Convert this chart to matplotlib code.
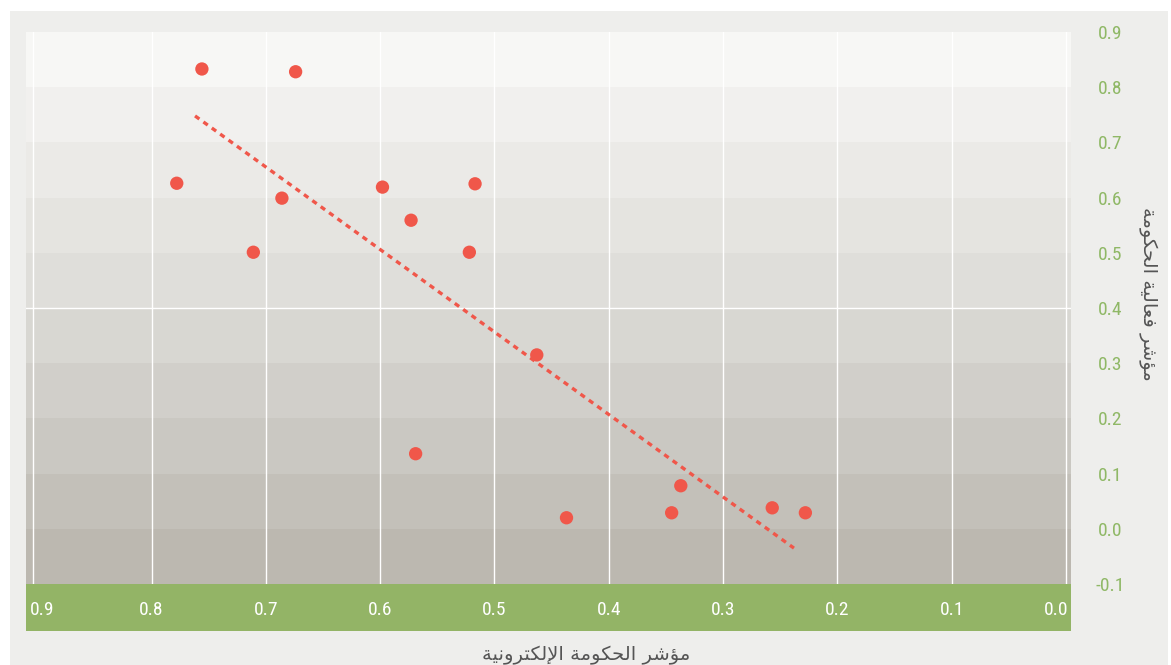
import matplotlib
matplotlib.use("Agg")
import matplotlib.pyplot as plt
from matplotlib import font_manager
from matplotlib.patches import Rectangle
import matplotlib.transforms as mtransforms

# ---------------- data ----------------
egov_index = [0.756, 0.674, 0.778, 0.686, 0.711, 0.598, 0.517, 0.573,
              0.522, 0.463, 0.569, 0.437, 0.337, 0.345, 0.257, 0.228]
gov_effect = [0.833, 0.828, 0.626, 0.599, 0.501, 0.619, 0.625, 0.559,
              0.501, 0.315, 0.136, 0.020, 0.078, 0.029, 0.038, 0.029]
trend_x = [0.762, 0.238]
trend_y = [0.748, -0.035]
x_ticks = [0.9, 0.8, 0.7, 0.6, 0.5, 0.4, 0.3, 0.2, 0.1, 0.0]
x_tick_labels = ["0.9", "0.8", "0.7", "0.6", "0.5", "0.4", "0.3", "0.2", "0.1", "0.0"]
y_ticks = [0.9, 0.8, 0.7, 0.6, 0.5, 0.4, 0.3, 0.2, 0.1, 0.0, -0.1]
y_tick_labels = ["0.9", "0.8", "0.7", "0.6", "0.5", "0.4", "0.3", "0.2", "0.1", "0.0", "-0.1"]
x_title = "مؤشر الحكومة الإلكترونية"
y_title = "مؤشر فعالية الحكومة"

# ------------- arabic shaping (presentation forms) -------------
FORMS = {
    'ا': (0xFE8D, 0xFE8E, None, None), 'إ': (0xFE87, 0xFE88, None, None),
    'ؤ': (0xFE85, 0xFE86, None, None), 'ر': (0xFEAD, 0xFEAE, None, None),
    'و': (0xFEED, 0xFEEE, None, None), 'ة': (0xFE93, 0xFE94, None, None),
    'ش': (0xFEB5, 0xFEB6, 0xFEB7, 0xFEB8), 'م': (0xFEE1, 0xFEE2, 0xFEE3, 0xFEE4),
    'ل': (0xFEDD, 0xFEDE, 0xFEDF, 0xFEE0), 'ح': (0xFEA1, 0xFEA2, 0xFEA3, 0xFEA4),
    'ك': (0xFED9, 0xFEDA, 0xFEDB, 0xFEDC), 'ت': (0xFE95, 0xFE96, 0xFE97, 0xFE98),
    'ن': (0xFEE5, 0xFEE6, 0xFEE7, 0xFEE8), 'ي': (0xFEF1, 0xFEF2, 0xFEF3, 0xFEF4),
    'ف': (0xFED1, 0xFED2, 0xFED3, 0xFED4), 'ع': (0xFEC9, 0xFECA, 0xFECB, 0xFECC),
}
LAMALEF = {'ا': (0xFEFB, 0xFEFC), 'إ': (0xFEF9, 0xFEFA)}


def shape_ar(text):
    def joins_left(c):
        return c in FORMS and FORMS[c][2] is not None
    chars = list(text)
    n = len(chars)
    out = []
    i = 0
    while i < n:
        c = chars[i]
        if c not in FORMS:
            out.append(c)
            i += 1
            continue
        prev = chars[i - 1] if i > 0 else None
        cprev = prev is not None and joins_left(prev)
        if c == 'ل' and i + 1 < n and chars[i + 1] in LAMALEF:
            iso, fin = LAMALEF[chars[i + 1]]
            out.append(chr(fin if cprev else iso))
            i += 2
            continue
        nxt = chars[i + 1] if i + 1 < n else None
        cnext = joins_left(c) and nxt is not None and nxt in FORMS
        iso, fin, ini, med = FORMS[c]
        if cprev and cnext:
            g = med
        elif cprev:
            g = fin
        elif cnext:
            g = ini
        else:
            g = iso
        out.append(chr(g))
        i += 1
    return ''.join(reversed(out))


# ------------- fonts -------------
available = {f.name for f in font_manager.fontManager.ttflist}
num_font = "Roboto Condensed" if "Roboto Condensed" in available else (
    "Liberation Sans Narrow" if "Liberation Sans Narrow" in available else "Roboto")

# ------------- figure -------------
W, H = 1171, 665
fig = plt.figure(figsize=(W / 100, H / 100), dpi=100)
fig.patch.set_facecolor("white")

# outer panel
fig.add_artist(Rectangle((10 / W, 0), 1158 / W, (H - 11) / H, transform=fig.transFigure,
                         facecolor="#eeeeec", edgecolor="none", zorder=-10))

ax_l, ax_r, ax_t, ax_b = 26, 1071, 32, 584
ax = fig.add_axes([ax_l / W, (H - ax_b) / H, (ax_r - ax_l) / W, (ax_b - ax_t) / H])
ax.set_facecolor("none")

# green band under the plot
fig.add_artist(Rectangle((ax_l / W, (H - 631) / H), (ax_r - ax_l) / W, 47 / H,
                         transform=fig.transFigure, facecolor="#93b466",
                         edgecolor="none", zorder=-5))

band_colors = ["#bcb8b0", "#c3c0b9", "#cac8c2", "#d1cfca", "#d8d7d2",
               "#dfdeda", "#e5e4e0", "#ebeae7", "#f1f0ee", "#f7f7f5"]
levels = sorted(y_ticks)
for k in range(len(levels) - 1):
    ax.axhspan(levels[k], levels[k + 1], facecolor=band_colors[k], edgecolor="none", zorder=0)

ax.set_xlim(0.9099, -0.0044)
ax.set_ylim(-0.1, 0.9)

for xv in x_ticks[1:]:
    ax.axvline(xv, color="white", lw=1.0, zorder=1)
# leftmost grid line sits just inside the plot edge
edge = 7 / (ax_r - ax_l)
ax.plot([edge, edge], [0, 1], color="white", lw=1.0, zorder=1, transform=ax.transAxes)
ax.axhline(0.4, color="white", lw=1.0, zorder=1)

ax.scatter(egov_index, gov_effect, s=92, color="#f0574a", edgecolors="none", zorder=4)
ax.plot(trend_x, trend_y, color="#f0574a", lw=2.4, linestyle=(0, (1.6, 1.5)), zorder=3)

for s in ax.spines.values():
    s.set_visible(False)

# x ticks inside green band
ax.set_xticks(x_ticks)
ax.set_xticklabels(x_tick_labels, fontsize=14, color="white", family=num_font)
ax.tick_params(axis="x", length=0, pad=19)
xl = ax.get_xticklabels()
for lab in xl:
    lab.set_va("center")
xl[0].set_ha("left")
xl[0].set_transform(xl[0].get_transform() + mtransforms.ScaledTranslation(-7 / 100, 0, fig.dpi_scale_trans))
xl[-1].set_ha("right")
xl[-1].set_transform(xl[-1].get_transform() + mtransforms.ScaledTranslation(2 / 100, 0, fig.dpi_scale_trans))

# y ticks on the right
ax.yaxis.tick_right()
ax.set_yticks(y_ticks)
ax.set_yticklabels(y_tick_labels, fontsize=14, color="#8fb866", family=num_font)
ax.tick_params(axis="y", length=0, pad=28)
for lab in ax.get_yticklabels():
    lab.set_ha("center")

# titles
fig.text(586 / W, (H - 655) / H, shape_ar(x_title), ha="center", va="center",
         fontsize=14, color="#555555", family="DejaVu Sans")
fig.text(1148 / W, (H - 294) / H, shape_ar(y_title), ha="center", va="center",
         rotation=-90, fontsize=14, color="#555555", family="DejaVu Sans")

fig.savefig("out.png", dpi=100)
